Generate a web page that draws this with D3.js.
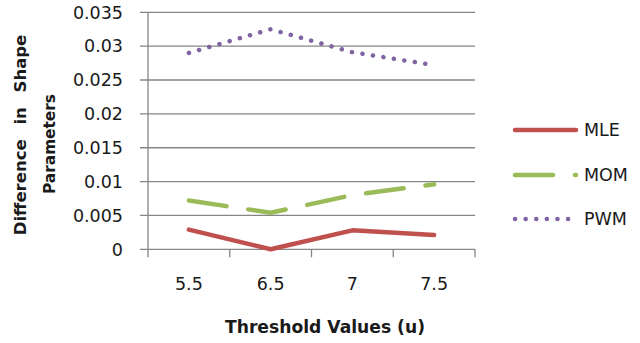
<!DOCTYPE html>
<html>
<head>
<meta charset="utf-8">
<script src="https://cdn.jsdelivr.net/npm/d3@7"></script>
<style>
  html, body { margin: 0; padding: 0; background: #fff; }
  svg { display: block; }
  text { font-family: "DejaVu Sans", sans-serif; fill: #1a1a1a; }
</style>
</head>
<body>
<svg id="chart" width="640" height="343"></svg>
<script>
const categories = ["5.5", "6.5", "7", "7.5"];
const mleValues = [0.0029, 0.0000, 0.0028, 0.0021];
const momValues = [0.0072, 0.0054, 0.0080, 0.0096];
const pwmValues = [0.0290, 0.0325, 0.0291, 0.0272];
const yTicks = [0, 0.005, 0.01, 0.015, 0.02, 0.025, 0.03, 0.035];
const yTickLabels = ["0", "0.005", "0.01", "0.015", "0.02", "0.025", "0.03", "0.035"];
const seriesNames = ["MLE", "MOM", "PWM"];
const seriesColors = ["#C0504D", "#9BBB59", "#8064A2"];
const xTitle = "Threshold Values (u)";
const yTitleLines = ["Difference in Shape", "Parameters"];

const series = [
  { name: seriesNames[0], values: mleValues, color: seriesColors[0], dash: null, cap: "round", width: 4.5 },
  { name: seriesNames[1], values: momValues, color: seriesColors[1], dash: "38 22", cap: "round", width: 4.5 },
  { name: seriesNames[2], values: pwmValues, color: seriesColors[2], dash: "0.1 10.5", cap: "round", width: 4.5 }
];

const svg = d3.select("#chart");
const plot = { left: 148, right: 475, top: 12.3, bottom: 249.3 };

const x = d3.scaleBand().domain(categories).range([plot.left, plot.right]).padding(0);
const y = d3.scaleLinear().domain([0, 0.035]).range([plot.bottom, plot.top]);

// gridlines (extend left as ticks)
svg.append("g").selectAll("line").data(yTicks).join("line")
  .attr("x1", plot.left - 8).attr("x2", plot.right)
  .attr("y1", d => y(d)).attr("y2", d => y(d))
  .attr("stroke", "#868686").attr("stroke-width", 1.3);

// y axis line
svg.append("line")
  .attr("x1", plot.left).attr("x2", plot.left)
  .attr("y1", plot.top).attr("y2", plot.bottom)
  .attr("stroke", "#868686").attr("stroke-width", 1.3);

// x tick marks at band boundaries
const bounds = categories.map(c => x(c)).concat([plot.right]);
svg.append("g").selectAll("line").data(bounds).join("line")
  .attr("x1", d => d).attr("x2", d => d)
  .attr("y1", plot.bottom).attr("y2", plot.bottom + 8)
  .attr("stroke", "#868686").attr("stroke-width", 1.3);

// y tick labels
svg.append("g").selectAll("text").data(yTicks).join("text")
  .attr("x", 123).attr("y", d => y(d))
  .attr("dy", "0.36em")
  .attr("text-anchor", "end")
  .attr("font-size", 17.5)
  .text((d, i) => yTickLabels[i]);

// x tick labels
svg.append("g").selectAll("text").data(categories).join("text")
  .attr("x", d => x(d) + x.bandwidth() / 2).attr("y", 290)
  .attr("text-anchor", "middle")
  .attr("font-size", 17.5)
  .text(d => d);

// x title
svg.append("text")
  .attr("x", 325).attr("y", 333)
  .attr("text-anchor", "middle")
  .attr("font-size", 17).attr("font-weight", "bold")
  .attr("textLength", 200).attr("lengthAdjust", "spacingAndGlyphs")
  .text(xTitle);

// y title
svg.append("text")
  .attr("transform", "translate(26,135) rotate(-90)")
  .attr("text-anchor", "middle")
  .attr("font-size", 16.5).attr("font-weight", "bold")
  .attr("word-spacing", 9)
  .text(yTitleLines[0]);
svg.append("text")
  .attr("transform", "translate(54.5,144) rotate(-90)")
  .attr("text-anchor", "middle")
  .attr("font-size", 16.5).attr("font-weight", "bold")
  .attr("textLength", 100).attr("lengthAdjust", "spacingAndGlyphs")
  .text(yTitleLines[1]);

// lines
const line = d3.line()
  .x((d, i) => x(categories[i]) + x.bandwidth() / 2)
  .y(d => y(d));

series.forEach(s => {
  svg.append("path")
    .attr("d", line(s.values))
    .attr("fill", "none")
    .attr("stroke", s.color)
    .attr("stroke-width", s.width)
    .attr("stroke-linecap", s.cap)
    .attr("stroke-linejoin", "round")
    .attr("stroke-dasharray", s.dash);
});

// legend
const legendY = [130, 175, 219];
series.forEach((s, i) => {
  svg.append("line")
    .attr("x1", 515).attr("x2", 576)
    .attr("y1", legendY[i]).attr("y2", legendY[i])
    .attr("stroke", s.color)
    .attr("stroke-width", s.width)
    .attr("stroke-linecap", s.cap)
    .attr("stroke-dasharray", s.dash);
  svg.append("text")
    .attr("x", 584).attr("y", legendY[i])
    .attr("dy", "0.36em")
    .attr("font-size", 17.5)
    .text(s.name);
});
</script>
</body>
</html>
